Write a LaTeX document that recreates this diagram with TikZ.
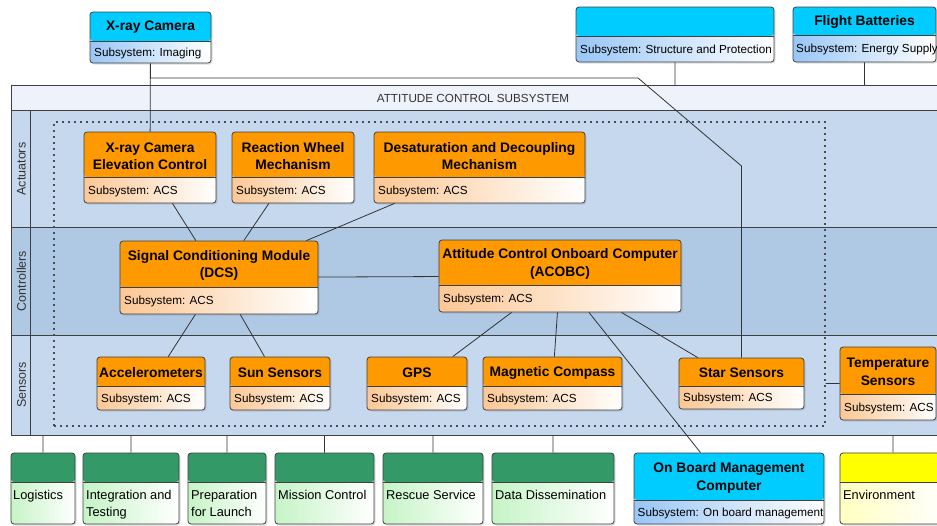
\documentclass[tikz,border=0pt]{standalone}
\usepackage{fontspec}
\setmainfont{Liberation Sans}
\usetikzlibrary{shadows}

\definecolor{hdorange}{HTML}{FF9900}
\definecolor{bdorange}{HTML}{FCC794}
\definecolor{hdcyan}{HTML}{00CCFF}
\definecolor{bdcyan}{HTML}{99C6F6}
\definecolor{hdgreen}{HTML}{339966}
\definecolor{bdgreen}{HTML}{C6F4C6}
\definecolor{hdyellow}{HTML}{FFFF00}
\definecolor{bdyellow}{HTML}{FFFFC0}
\definecolor{bandtop}{HTML}{EEF3FB}
\definecolor{lanelight}{HTML}{C6D8EE}
\definecolor{lanedark}{HTML}{AFC9E5}
\definecolor{edgegray}{HTML}{333333}

\tikzset{
  head height/.store in=\headht, head height=28pt,
  block/.style 2 args={draw=black!75, line width=0.8pt, rounded corners=3pt, inner sep=0pt,
    drop shadow={shadow xshift=1.5pt, shadow yshift=-1.5pt, opacity=0.25},
    path picture={
      \fill[#1] (path picture bounding box.north west) rectangle ([yshift=-\headht]path picture bounding box.north east);
      \shade[left color=#2, right color=white] ([yshift=-\headht]path picture bounding box.north west) rectangle (path picture bounding box.south east);
      \draw[black!75, line width=0.8pt] ([yshift=-\headht]path picture bounding box.north west) -- ([yshift=-\headht]path picture bounding box.north east);
    }},
  acsbox/.style={block={hdorange}{bdorange}},
  extbox/.style={block={hdcyan}{bdcyan}},
  actorbox/.style={block={hdgreen}{bdgreen}},
  envbox/.style={block={hdyellow}{bdyellow}},
  ttl/.style={font=\fontsize{13.8}{17.5}\selectfont\bfseries, align=center, inner sep=0pt},
  sub/.style={font=\fontsize{11.7}{14}\selectfont, anchor=west, inner sep=0pt},
  note/.style={font=\fontsize{12.8}{16.5}\selectfont, anchor=north west, align=left, inner sep=0pt},
  lane/.style={font=\fontsize{12.5}{15}\selectfont, text=black!80, rotate=90, inner sep=0pt},
  conn/.style={draw=edgegray, line width=0.8pt}
}

\begin{document}
\begin{tikzpicture}[x=1pt,y=-1pt]
  \useasboundingbox (0,0) rectangle (937,525);
  \clip (0,0) rectangle (937,525);

  % swimlanes of the ACS
  \fill[bandtop] (10.7,85) rectangle (945,110.7);
  \fill[lanelight] (10.7,110.7) rectangle (945,227.3);
  \fill[lanedark] (10.7,227.3) rectangle (945,335);
  \fill[lanelight] (10.7,335) rectangle (945,435);
  \draw[black!75, line width=0.8pt]
    (10.7,110.7) -- (945,110.7) (10.7,227.3) -- (945,227.3)
    (10.7,335) -- (945,335) (30.7,110.7) -- (30.7,435);
  \node[draw=black!75, line width=0.8pt, anchor=north west, minimum width=934.3, minimum height=350, inner sep=0pt] (acs) at (10.7,85) {};
  \node[font=\fontsize{11.7}{14}\selectfont, text=black!80] (acs-t) at (473,98.5) {ATTITUDE CONTROL SUBSYSTEM};
  \node[lane] (act) at (21.5,169) {Actuators};
  \node[lane] (ctl) at (21.5,281) {Controllers};
  \node[lane] (sen) at (21.5,385) {Sensors};
  \node[draw=black!70, line width=1.6pt, dash pattern=on 1.6pt off 4.4pt, anchor=north west, minimum width=770.7, minimum height=304, inner sep=0pt] (grp) at (53.3,121) {};

  % outside the ACS
  \node[extbox, head height=29pt, minimum width=121, minimum height=51] (cam) at (150.5,37.5) {};
  \node[ttl] (cam-t) at (150.5,27.5) {X-ray Camera};
  \node[sub] (cam-s) at (94,53.5) {Subsystem: Imaging};
  \node[extbox, head height=29pt, minimum width=198, minimum height=55] (struct) at (675,34.5) {};
  \node[sub] (struct-s) at (580,50) {Subsystem: Structure and Protection};
  \node[extbox, head height=28pt, minimum width=143, minimum height=55] (batt) at (864.5,34.5) {};
  \node[ttl] (batt-t) at (864.5,22) {Flight Batteries};
  \node[sub] (batt-s) at (796,49.5) {Subsystem: Energy Supply};

  % actuators
  \node[acsbox, head height=45pt, minimum width=132, minimum height=71] (elev) at (150,167.5) {};
  \node[ttl] (elev-t) at (150,156) {X-ray Camera\\Elevation Control};
  \node[sub] (elev-s) at (88,191) {Subsystem: ACS};
  \node[acsbox, head height=45pt, minimum width=122, minimum height=71] (wheel) at (293,167.5) {};
  \node[ttl] (wheel-t) at (293,156) {Reaction Wheel\\Mechanism};
  \node[sub] (wheel-s) at (236,191) {Subsystem: ACS};
  \node[acsbox, head height=45pt, minimum width=211, minimum height=71] (desat) at (479.5,167.5) {};
  \node[ttl] (desat-t) at (479.5,156) {Desaturation and Decoupling\\Mechanism};
  \node[sub] (desat-s) at (378,191) {Subsystem: ACS};

  % controllers
  \node[acsbox, head height=46pt, minimum width=198, minimum height=73] (dcs) at (219,277.5) {};
  \node[ttl] (dcs-t) at (219,265.5) {Signal Conditioning Module\\(DCS)};
  \node[sub] (dcs-s) at (124,301.5) {Subsystem: ACS};
  \node[acsbox, head height=45pt, minimum width=242, minimum height=72] (acobc) at (560,276) {};
  \node[ttl] (acobc-t) at (560,264) {Attitude Control Onboard Computer\\(ACOBC)};
  \node[sub] (acobc-s) at (443,299.5) {Subsystem: ACS};

  % sensors
  \node[acsbox, head height=29pt, minimum width=108, minimum height=53] (accel) at (151,383.5) {};
  \node[ttl] (accel-t) at (151,372.5) {Accelerometers};
  \node[sub] (accel-s) at (101,399) {Subsystem: ACS};
  \node[acsbox, head height=29pt, minimum width=100, minimum height=53] (sun) at (280,383.5) {};
  \node[ttl] (sun-t) at (280,372.5) {Sun Sensors};
  \node[sub] (sun-s) at (234,399) {Subsystem: ACS};
  \node[acsbox, head height=29pt, minimum width=100, minimum height=53] (gps) at (417,383.5) {};
  \node[ttl] (gps-t) at (417,372.5) {GPS};
  \node[sub] (gps-s) at (371,399) {Subsystem: ACS};
  \node[acsbox, head height=29pt, minimum width=139, minimum height=53] (compass) at (552.5,383.5) {};
  \node[ttl] (compass-t) at (552.5,372.5) {Magnetic Compass};
  \node[sub] (compass-s) at (487,399) {Subsystem: ACS};
  \node[acsbox, head height=28pt, minimum width=125, minimum height=51] (star) at (741.5,383.5) {};
  \node[ttl] (star-t) at (741.5,373) {Star Sensors};
  \node[sub] (star-s) at (683,398.5) {Subsystem: ACS};
  \node[acsbox, head height=47pt, minimum width=96, minimum height=73] (temp) at (888,383.5) {};
  \node[ttl] (temp-t) at (888,372) {Temperature\\Sensors};
  \node[sub] (temp-s) at (844,408) {Subsystem: ACS};

  % actors and environment
  \node[actorbox, head height=29pt, minimum width=64, minimum height=71] (logi) at (43,488.5) {};
  \node[note] (logi-t) at (13,490.5) {Logistics};
  \node[actorbox, head height=29pt, minimum width=96, minimum height=71] (integ) at (131,488.5) {};
  \node[note] (integ-t) at (86,490.5) {Integration and\\Testing};
  \node[actorbox, head height=29pt, minimum width=78, minimum height=71] (prep) at (227,488.5) {};
  \node[note] (prep-t) at (191,490.5) {Preparation\\for Launch};
  \node[actorbox, head height=29pt, minimum width=99, minimum height=71] (mission) at (324.5,488.5) {};
  \node[note] (mission-t) at (278,490.5) {Mission Control};
  \node[actorbox, head height=29pt, minimum width=100, minimum height=71] (rescue) at (433,488.5) {};
  \node[note] (rescue-t) at (386,490.5) {Rescue Service};
  \node[actorbox, head height=29pt, minimum width=122, minimum height=71] (data) at (553,488.5) {};
  \node[note] (data-t) at (495,490.5) {Data Dissemination};
  \node[extbox, head height=47pt, minimum width=190, minimum height=71] (obmc) at (729,488.5) {};
  \node[ttl] (obmc-t) at (729,478) {On Board Management\\Computer};
  \node[sub] (obmc-s) at (637.5,513) {Subsystem: On board management};
  \node[envbox, head height=29pt, minimum width=106, minimum height=71] (envr) at (893,488.5) {};
  \node[note] (envr-t) at (843,490.5) {Environment};

  \coordinate (k1) at (638,78);
  \coordinate (k2) at (741.5,166);

  \draw[conn]
    (cam) -- (elev)
    (cam) |- (k1) -- (k2) -- (star)
    (struct) -- (struct |- acs.north)
    (batt) -- (batt |- acs.north)
    (dcs) -- (elev)
    (dcs) -- (wheel)
    (dcs) -- (desat)
    (dcs) -- (acobc)
    (dcs) -- (accel)
    (dcs) -- (sun)
    (acobc) -- (gps)
    (acobc) -- (compass)
    (acobc) -- (star)
    (acobc) -- (obmc)
    (grp.east |- temp) -- (temp)
    (acs.south -| logi) -- (logi)
    (acs.south -| integ) -- (integ)
    (acs.south -| prep) -- (prep)
    (acs.south -| mission) -- (mission)
    (acs.south -| rescue) -- (rescue)
    (acs.south -| data) -- (data)
    (acs.south -| envr) -- (envr);
\end{tikzpicture}
\end{document}
